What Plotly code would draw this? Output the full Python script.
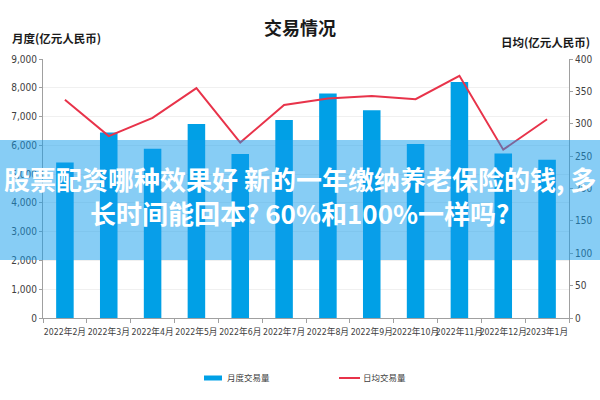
import plotly.graph_objects as go

months = ["2022年2月", "2022年3月", "2022年4月", "2022年5月", "2022年6月", "2022年7月",
          "2022年8月", "2022年9月", "2022年10月", "2022年11月", "2022年12月", "2023年1月"]
monthly_volume = [5400, 6450, 5880, 6740, 5700, 6880, 7800, 7220, 6050, 8200, 5720, 5500]
daily_avg = [337, 281, 309, 355, 271, 329, 339, 343, 338, 374, 260, 307]

title_text = "交易情况"
left_title = "月度(亿元人民币)"
right_title = "日均(亿元人民币)"
legend_bar = "月度交易量"
legend_line = "日均交易量"
overlay_line1 = "股票配资哪种效果好 新的一年缴纳养老保险的钱, 多"
overlay_line2 = "长时间能回本? 60%和100%一样吗?"

FONT = "Liberation Sans Narrow, DejaVu Sans Condensed, Noto Sans CJK SC, sans-serif"
BOLD_CJK = "Noto Sans CJK SC, sans-serif"

BAR_COLOR = "#00a0e6"
LINE_COLOR = "#e8334a"

# plot area in pixels
PL, PR, PT, PB = 43, 569, 59, 318


def px(x):
    return (x - PL) / (PR - PL)


def py(y):
    return (PB - y) / (PB - PT)


fig = go.Figure()
fig.add_trace(go.Bar(x=months, y=monthly_volume, name=legend_bar,
                     marker=dict(color=BAR_COLOR, line=dict(width=0)),
                     width=0.4, yaxis="y", showlegend=False))
fig.add_trace(go.Scatter(x=months, y=daily_avg, name=legend_line, mode="lines",
                         line=dict(color=LINE_COLOR, width=2), yaxis="y2",
                         showlegend=False))

fig.update_layout(
    width=600, height=400,
    margin=dict(l=PL, r=600 - PR, t=PT, b=400 - PB),
    paper_bgcolor="white", plot_bgcolor="white",
    font=dict(family=FONT, size=10, color="#404040"),
    showlegend=False,
    xaxis=dict(showline=True, linecolor="#a0a0a0", ticks="outside", ticklen=4,
               tickcolor="#a0a0a0", tickson="boundaries", showgrid=False,
               tickangle=0, tickfont=dict(size=8.7), automargin=False,
               ticklabelstandoff=6),
    yaxis=dict(range=[0, 9000], dtick=1000, tickformat=",", showline=True,
               linecolor="#a0a0a0", ticks="outside", ticklen=3, tickcolor="#a0a0a0",
               gridcolor="#f0f0f0", zeroline=False, tickfont=dict(size=10),
               automargin=False),
    yaxis2=dict(range=[0, 400], dtick=50, overlaying="y", side="right", showline=True,
                linecolor="#a0a0a0", ticks="outside", ticklen=3, tickcolor="#a0a0a0",
                showgrid=False, zeroline=False, tickfont=dict(size=10),
                automargin=False),
)

fig.add_annotation(text="<b>" + title_text + "</b>", xref="paper", yref="paper",
                   x=px(300), y=py(27), xanchor="center", yanchor="middle",
                   showarrow=False, font=dict(family=BOLD_CJK, size=18, color="#1a1a1a"))
fig.add_annotation(text="<b>" + left_title + "</b>", xref="paper", yref="paper",
                   x=px(10), y=py(38), xanchor="left", yanchor="middle",
                   showarrow=False, font=dict(family=BOLD_CJK, size=11.5, color="#1a1a1a"))
fig.add_annotation(text="<b>" + right_title + "</b>", xref="paper", yref="paper",
                   x=px(592), y=py(42), xanchor="right", yanchor="middle",
                   showarrow=False, font=dict(family=BOLD_CJK, size=11.5, color="#1a1a1a"))

# manual legend
fig.add_shape(type="rect", xref="paper", yref="paper", x0=px(204), x1=px(222),
              y0=py(380.5), y1=py(375.5), fillcolor=BAR_COLOR, line=dict(width=0))
fig.add_annotation(text=legend_bar, xref="paper", yref="paper", x=px(225), y=py(378),
                   xanchor="left", yanchor="middle", showarrow=False,
                   font=dict(size=8.5, color="#404040"))
fig.add_shape(type="line", xref="paper", yref="paper", x0=px(339), x1=px(360),
              y0=py(378), y1=py(378), line=dict(color=LINE_COLOR, width=2))
fig.add_annotation(text=legend_line, xref="paper", yref="paper", x=px(361), y=py(378),
                   xanchor="left", yanchor="middle", showarrow=False,
                   font=dict(size=8.5, color="#404040"))

# overlay banner
fig.add_shape(type="rect", xref="paper", yref="paper", x0=-0.5, x1=1.5,
              y0=py(260), y1=py(140),
              fillcolor="rgba(15,155,235,0.5)", line=dict(width=0), layer="above")
fig.add_annotation(text="<b>" + overlay_line1 + "</b>", xref="paper", yref="paper",
                   x=px(300), y=py(178), xanchor="center", yanchor="middle",
                   showarrow=False, font=dict(family=BOLD_CJK, size=26, color="white"))
fig.add_annotation(text="<b>" + overlay_line2 + "</b>", xref="paper", yref="paper",
                   x=px(299), y=py(213), xanchor="center", yanchor="middle",
                   showarrow=False, font=dict(family=BOLD_CJK, size=26, color="white"))

fig.write_html("out.html", config={"displayModeBar": False},
               post_script="document.body.style.margin='0px';")
